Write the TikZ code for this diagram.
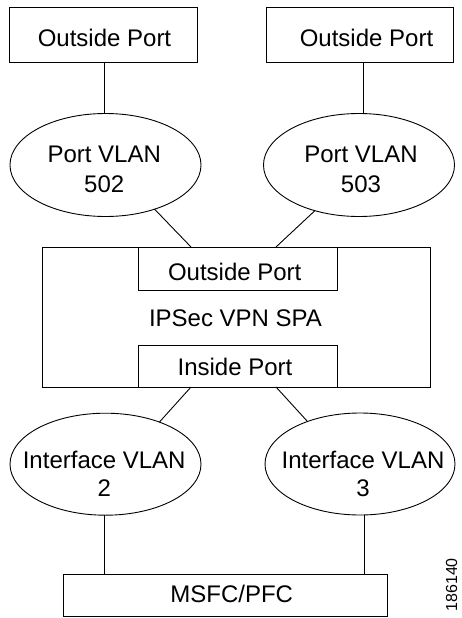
\documentclass[tikz,border=0pt]{standalone}
\usepackage{fontspec}
\setmainfont{Liberation Sans}
\usetikzlibrary{shapes.geometric,calc}
\begin{document}
\begin{tikzpicture}[x=1pt,y=-1pt,
  line width=0.9pt,
  boxnode/.style={draw,rectangle,inner sep=0pt,outer sep=0pt},
  ellnode/.style={draw,ellipse,inner sep=0pt,outer sep=0pt,minimum width=191pt,minimum height=103pt},
  lbl/.style={inner sep=0pt,anchor=base,font=\fontsize{24}{30}\selectfont},
  lbltwo/.style={inner sep=0pt,align=center,font=\fontsize{24}{30}\selectfont},
  lbltwob/.style={inner sep=0pt,align=center,font=\fontsize{24}{28.5}\selectfont}]
\useasboundingbox (0,0) rectangle (462,618);
\fill[white] (0,0) rectangle (462,618);
% top boxes
\node[boxnode,minimum width=188pt,minimum height=55pt] (ob1) at (103,34.5) {};
\node[boxnode,minimum width=187pt,minimum height=55pt] (ob2) at (359.5,34.5) {};
\node[lbl] (tob1) at (104.5,46.5) {Outside Port};
\node[lbl] (tob2) at (366.5,46.5) {Outside Port};
% top ellipses
\node[ellnode] (pv1) at (105.5,165) {};
\node[ellnode] (pv2) at (359,165) {};
\node[lbltwo] (tpv1) at (104.2,169.4) {Port VLAN\\502};
\node[lbltwo] (tpv2) at (361,169.4) {Port VLAN\\503};
% SPA
\node[boxnode,minimum width=388pt,minimum height=140pt] (spa) at (236,317) {};
\node[boxnode,minimum width=199pt,minimum height=43.7pt] (op) at (237.5,268.85) {};
\node[boxnode,minimum width=199pt,minimum height=42pt] (ip) at (237.5,366) {};
\node[lbl] (top) at (234.7,280.5) {Outside Port};
\node[lbl] (tspa) at (235.5,326.5) {IPSec VPN SPA};
\node[lbl] (tip) at (235,375.5) {Inside Port};
% bottom ellipses
\node[ellnode,minimum height=102pt] (iv1) at (105.5,464.2) {};
\node[ellnode,minimum width=190pt,minimum height=102pt] (iv2) at (360,464) {};
\node[lbltwob] (tiv1) at (104.2,473.9) {Interface VLAN\\2};
\node[lbltwob] (tiv2) at (363,473.9) {Interface VLAN\\3};
% MSFC
\node[boxnode,minimum width=324pt,minimum height=42.7pt] (ms) at (225,595.35) {};
\node[lbl] (tms) at (231.7,602.3) {MSFC/PFC};
% figure number
\node[inner sep=0pt,anchor=base west,rotate=90,font=\fontsize{16}{20}\selectfont] (fig) at (457,612) {186140};
% connectors
\draw ([xshift=1]ob1.south) -- ([xshift=1]ob1.south |- pv1.north);
\draw ([xshift=3.5]ob2.south) -- ([xshift=3.5]ob2.south |- pv2.north);
\draw (pv1.-42.3) -- ([xshift=53]op.north west);
\draw (pv2.-134.9) -- ([xshift=-61]op.north east);
\draw ([xshift=53]ip.south west) -- (iv1.38.4);
\draw ([xshift=-61]ip.south east) -- (iv2.141);
\draw ([xshift=-1.5]iv1.south) -- ([xshift=-1.5]iv1.south |- ms.north);
\draw ([xshift=4]iv2.south) -- ([xshift=4]iv2.south |- ms.north);
\end{tikzpicture}
\end{document}
